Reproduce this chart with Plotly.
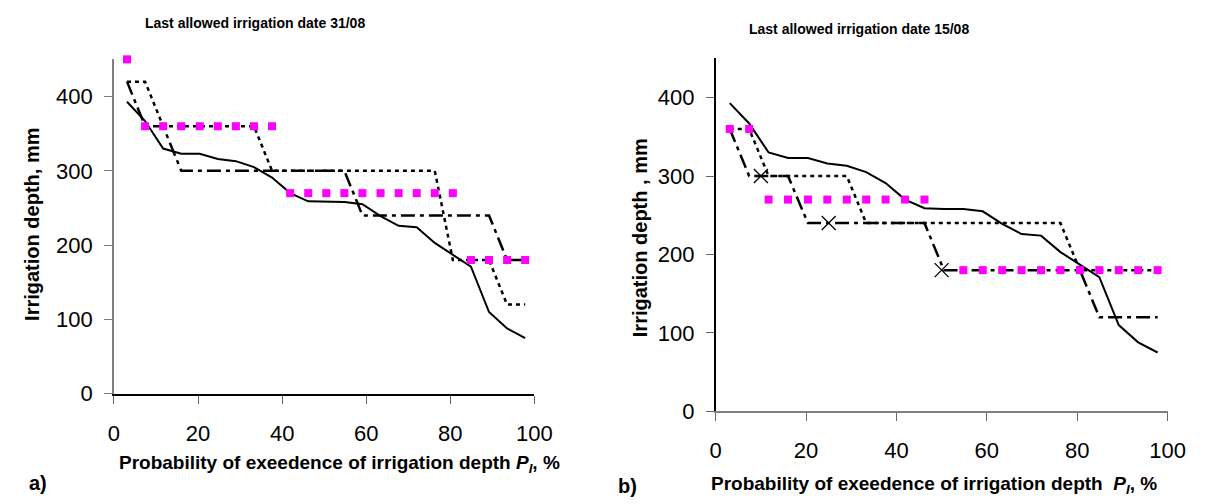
import plotly.graph_objects as go

# ---------------- data ----------------
prob = [3.1, 7.4, 11.7, 16.0, 20.4, 24.7, 29.0, 33.3, 37.6, 41.9, 46.2, 50.5,
        54.8, 59.1, 63.4, 67.7, 72.0, 76.3, 80.6, 84.9, 89.2, 93.5, 97.8]

solid = [393, 367, 330, 323, 323, 316, 313, 305, 291, 270, 259, 258,
         258, 255, 239, 226, 224, 203, 187, 171, 110, 88, 75]

# panel a (last allowed irrigation date 31/08)
magenta_a = [450, 360, 360, 360, 360, 360, 360, 360, 360, 270, 270, 270,
             270, 270, 270, 270, 270, 270, 270, 180, 180, 180, 180]
dashdot_a = [420, 360, 360, 300, 300, 300, 300, 300, 300, 300, 300, 300,
             300, 240, 240, 240, 240, 240, 240, 240, 240, 180, 180]
dotted_a = [420, 420, 360, 360, 360, 360, 360, 360, 300, 300, 300, 300,
            300, 300, 300, 300, 300, 300, 180, 180, 180, 120, 120]

# panel b (last allowed irrigation date 15/08)
magenta_b = [360, 360, 270, 270, 270, 270, 270, 270, 270, 270, 270, None,
             180, 180, 180, 180, 180, 180, 180, 180, 180, 180, 180]
dashdot_b = [360, 300, 300, 300, 240, 240, 240, 240, 240, 240, 240, 180,
             180, 180, 180, 180, 180, 180, 180, 120, 120, 120, 120]
dotted_b = [360, 360, 300, 300, 300, 300, 300, 240, 240, 240, 240, 240,
            240, 240, 240, 240, 240, 240, 180, 180, 180, 180, 180]
cross_x = [10, 25, 50]
cross_y = [300, 240, 180]

x_ticks = [0, 20, 40, 60, 80, 100]
y_ticks = [0, 100, 200, 300, 400]

title_a = "Last allowed irrigation date 31/08"
title_b = "Last allowed irrigation date 15/08"
xlab_a = "<b>Probability of exeedence of irrigation depth <i>P</i><sub><i>I</i></sub>, %</b>"
xlab_b = "<b>Probability of exeedence of irrigation depth  <i>P</i><sub><i>I</i></sub>, %</b>"
ylab_a = "<b>Irrigation depth, mm</b>"
ylab_b = "<b>Irrigation depth , mm</b>"

FONT = "Liberation Sans, Arial, sans-serif"
MAG = "#FF00FF"

fig = go.Figure()


def add_panel(xa, ya, magenta, dashdot, dotted):
    fig.add_trace(go.Scatter(x=prob, y=dotted, mode="lines", xaxis=xa, yaxis=ya,
                             line=dict(color="black", width=2.5, dash="4px,4px")))
    fig.add_trace(go.Scatter(x=prob, y=dashdot, mode="lines", xaxis=xa, yaxis=ya,
                             line=dict(color="black", width=2.5, dash="14px,5px,4px,5px")))
    fig.add_trace(go.Scatter(x=prob, y=solid, mode="lines", xaxis=xa, yaxis=ya,
                             line=dict(color="black", width=2)))
    fig.add_trace(go.Scatter(x=prob, y=magenta, mode="markers", xaxis=xa, yaxis=ya,
                             cliponaxis=False,
                             marker=dict(symbol="square", size=8, color=MAG)))


add_panel("x", "y", magenta_a, dashdot_a, dotted_a)
add_panel("x2", "y2", magenta_b, dashdot_b, dotted_b)
fig.add_trace(go.Scatter(x=cross_x, y=cross_y, mode="markers", xaxis="x2", yaxis="y2",
                         marker=dict(symbol="x-thin-open", size=14, color="black",
                                     line=dict(color="black", width=1.3))))

W, H = 1205, 504


def dom_x(a, b):
    return [a / W, b / W]


def dom_y(top, bottom):
    return [1 - bottom / H, 1 - top / H]


tickfont = dict(family=FONT, size=22, color="black")
common_x = dict(range=[0, 100], tickvals=x_ticks, ticks="outside", ticklen=8,
                showgrid=False, zeroline=False, tickfont=tickfont, showline=True,
                ticklabelstandoff=11)
common_y = dict(range=[0, 450], tickvals=y_ticks, ticks="outside", ticklen=8,
                showgrid=False, zeroline=False, tickfont=tickfont, showline=True,
                ticklabelstandoff=7)

fig.update_layout(
    width=W, height=H, margin=dict(l=0, r=0, t=0, b=0),
    paper_bgcolor="white", plot_bgcolor="white", showlegend=False,
    font=dict(family=FONT, color="black"),
    xaxis=dict(domain=dom_x(102, 531), anchor="y", linecolor="black",
               tickcolor="#666666", linewidth=1.5, **common_x),
    yaxis=dict(domain=dom_y(52.7, 396), anchor="x", linecolor="#808080",
               tickcolor="#808080", linewidth=1.5, **common_y),
    xaxis2=dict(domain=dom_x(716, 1177), anchor="y2", linecolor="#808080",
                tickcolor="#666666", linewidth=1.5, **common_x),
    yaxis2=dict(domain=dom_y(51.7, 414), anchor="x2", linecolor="black",
                tickcolor="#666666", linewidth=1.5, **common_y),
)

ann = []


def txt(text, x, y, size, angle=0, bold=True):
    ann.append(dict(text=(f"<b>{text}</b>" if bold else text), x=x / W, y=1 - y / H,
                    xref="paper", yref="paper", showarrow=False, textangle=angle,
                    xanchor="center", yanchor="middle",
                    font=dict(family=FONT, size=size, color="black")))


txt(title_a, 246, 15, 14)
txt(title_b, 862, 22, 14)
txt(xlab_a, 332, 468, 19, bold=False)
txt(xlab_b, 939, 490, 19, bold=False)
txt(ylab_a, 19, 222, 20, angle=-90)
txt(ylab_b, 639, 236, 20, angle=-90)
txt("a)", 24, 488, 20)
txt("b)", 626, 491, 20)
fig.update_layout(annotations=ann)

fig.write_html("out.html")
